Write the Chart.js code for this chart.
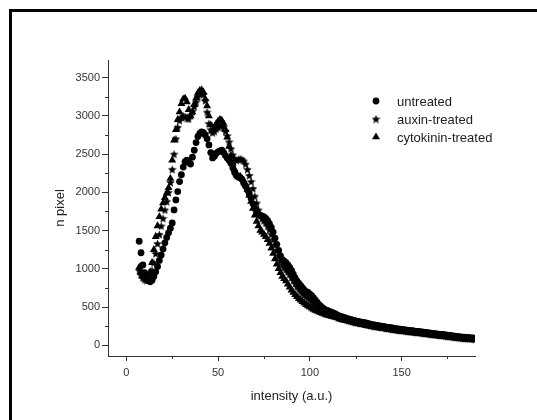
<!DOCTYPE html>
<html>
<head>
<meta charset="utf-8">
<script src="https://cdn.jsdelivr.net/npm/chart.js@4.4.0/dist/chart.umd.min.js"></script>
<style>
  body { margin: 0; background: #fff; }
  canvas { display: block; }
</style>
</head>
<body>
<canvas id="histCanvas" width="537" height="420"></canvas>
<script>
// intensity levels (x) and pixel counts per treatment
const intensity = [
  7, 8, 9, 10, 11, 12, 13, 14, 15, 16, 17, 18, 19, 20, 21, 22, 23, 24, 25, 26,
  27, 28, 29, 30, 31, 32, 33, 34, 35, 36, 37, 38, 39, 40, 41, 42, 43, 44, 45, 46,
  47, 48, 49, 50, 51, 52, 53, 54, 55, 56, 57, 58, 59, 60, 61, 62, 63, 64, 65, 66,
  67, 68, 69, 70, 71, 72, 73, 74, 75, 76, 77, 78, 79, 80, 81, 82, 83, 84, 85, 86,
  87, 88, 89, 90, 91, 92, 93, 94, 95, 96, 97, 98, 99, 100, 101, 102, 103, 104, 105, 106,
  107, 108, 109, 110, 111, 112, 113, 114, 115, 116, 117, 118, 119, 120, 121, 122, 123, 124, 125, 126,
  127, 128, 129, 130, 131, 132, 133, 134, 135, 136, 137, 138, 139, 140, 141, 142, 143, 144, 145, 146,
  147, 148, 149, 150, 151, 152, 153, 154, 155, 156, 157, 158, 159, 160, 161, 162, 163, 164, 165, 166,
  167, 168, 169, 170, 171, 172, 173, 174, 175, 176, 177, 178, 179, 180, 181, 182, 183, 184, 185, 186,
  187, 188, 189, 190
];

const untreated = [
  1360, 1210, 1050, 950, 880, 845, 830, 850, 900, 960,
  1030, 1110, 1180, 1260, 1340, 1410, 1470, 1530, 1600, 1770,
  1900, 2010, 2140, 2230, 2330, 2400, 2420, 2390, 2370, 2460,
  2550, 2650, 2730, 2770, 2790, 2780, 2750, 2700, 2620, 2520,
  2450, 2470, 2510, 2530, 2540, 2550, 2520, 2480, 2450, 2420,
  2380, 2320, 2260, 2220, 2200, 2190, 2170, 2120, 2080, 2030,
  1980, 1920, 1850, 1790, 1740, 1710, 1700, 1690, 1680, 1660,
  1630, 1590, 1540, 1480, 1400, 1320, 1240, 1170, 1120, 1100,
  1080, 1050, 1020, 980, 930, 880, 840, 810, 780, 750,
  720, 700, 690, 670, 650, 620, 590, 560, 530, 510,
  490, 470, 460, 450, 440, 430, 420, 410, 395, 385,
  378, 368, 360, 353, 346, 340, 333, 326, 320, 314,
  308, 304, 300, 296, 290, 283, 276, 270, 266, 262,
  258, 254, 250, 246, 242, 238, 234, 230, 226, 222,
  218, 214, 211, 208, 205, 202, 199, 196, 193, 190,
  186, 183, 180, 177, 174, 171, 168, 165, 162, 159,
  156, 153, 150, 147, 144, 141, 138, 135, 132, 129,
  126, 123, 120, 117, 114, 111, 108, 106, 104, 102,
  100, 98, 96, 94
];

const auxinTreated = [
  980, 920, 880, 860, 850, 860, 900, 980, 1080, 1200,
  1330, 1450, 1560, 1660, 1770, 1880, 2000, 2130, 2300, 2500,
  2700, 2850, 2940, 2980, 3000, 2990, 2970, 2960, 3010, 3060,
  3120, 3180, 3250, 3290, 3300, 3280, 3200, 3050, 2900, 2820,
  2780, 2800, 2830, 2850, 2870, 2880, 2850, 2800, 2740, 2660,
  2570, 2490, 2440, 2420, 2430, 2440, 2430, 2410, 2370, 2300,
  2220, 2140, 2050, 1950, 1860, 1770, 1700, 1660, 1630, 1600,
  1560, 1510, 1450, 1380, 1310, 1240, 1170, 1110, 1060, 1020,
  990, 960, 930, 890, 850, 810, 770, 740, 710, 680,
  660, 640, 620, 600, 580, 560, 540, 520, 500, 485,
  470, 455, 445, 435, 425, 415, 405, 395, 385, 372,
  362, 352, 344, 337, 330, 324, 317, 310, 304, 298,
  293, 288, 284, 279, 273, 267, 261, 256, 252, 248,
  244, 240, 236, 232, 228, 224, 220, 216, 212, 208,
  205, 201, 198, 195, 192, 189, 186, 183, 180, 177,
  174, 171, 168, 165, 162, 159, 156, 153, 150, 147,
  144, 141, 138, 135, 132, 129, 126, 123, 120, 117,
  114, 111, 108, 105, 102, 99, 96, 94, 92, 90,
  88, 86, 84, 82
];

const cytokininTreated = [
  1020, 950, 900, 880, 870, 900, 960, 1080, 1250, 1420,
  1560, 1680, 1780, 1860, 1930, 1990, 2060, 2180, 2420, 2680,
  2820, 2950, 3050, 3160, 3220, 3230, 3180, 3080, 3000, 3050,
  3150, 3230, 3300, 3330, 3340, 3310, 3220, 3130, 3000, 2880,
  2800, 2840, 2900, 2930, 2950, 2940, 2900, 2820, 2720, 2600,
  2480, 2380, 2300, 2240, 2200, 2210, 2180, 2150, 2100, 2040,
  1960, 1880, 1790, 1700, 1620, 1560, 1500, 1480, 1450, 1420,
  1380, 1330, 1270, 1200, 1130, 1060, 1000, 950, 900, 870,
  840, 800, 760, 720, 690, 660, 635, 610, 590, 570,
  550, 530, 515, 500, 485, 470, 455, 445, 435, 425,
  415, 405, 398, 390, 383, 376, 370, 364, 356, 346,
  338, 332, 326, 320, 314, 308, 302, 296, 290, 284,
  279, 274, 269, 264, 259, 254, 249, 244, 240, 236,
  232, 228, 224, 220, 216, 212, 208, 204, 200, 196,
  192, 189, 186, 183, 180, 177, 174, 171, 168, 165,
  162, 159, 156, 153, 150, 147, 144, 141, 138, 135,
  132, 129, 126, 123, 120, 117, 114, 111, 108, 105,
  102, 99, 96, 93, 90, 87, 84, 82, 80, 78,
  76, 74, 72, 70
];

const seriesLabels = ['untreated', 'auxin-treated', 'cytokinin-treated'];

const xTickValues = [0, 50, 100, 150];
const xMinorTicks = [25, 75, 125, 175];
const yTickValues = [0, 500, 1000, 1500, 2000, 2500, 3000, 3500];
const yMinorTicks = [250, 750, 1250, 1750, 2250, 2750, 3250];

const FONT = '"Liberation Sans", Arial, sans-serif';
const AXIS_COLOR = '#333';

// filled five point star used as a marker
function makeStar(size) {
  const c = document.createElement('canvas');
  c.width = size;
  c.height = size;
  const g = c.getContext('2d');
  const outer = size / 2;
  const inner = outer * 0.45;
  g.beginPath();
  for (let i = 0; i < 10; i++) {
    const r = i % 2 ? inner : outer;
    const a = -Math.PI / 2 + (i * Math.PI) / 5;
    g.lineTo(outer + r * Math.cos(a), outer + 0.5 + r * Math.sin(a));
  }
  g.closePath();
  g.fillStyle = '#000';
  g.fill();
  return c;
}

const starImg = makeStar(9);

const toPoints = values => values.map((v, i) => ({ x: intensity[i], y: v }));

const markerStyles = [
  { pointStyle: 'circle', radius: 3.4 },
  { pointStyle: starImg, radius: 4.5 },
  { pointStyle: 'triangle', radius: 4.6 },
];

/**
 * Outer frame of the figure (only left and top edges are visible)
 */
const framePlugin = {
  id: 'frame',
  beforeDraw(chart) {
    const { ctx } = chart;
    ctx.save();
    ctx.fillStyle = '#000';
    ctx.fillRect(9, 9, 528, 3);
    ctx.fillRect(9, 9, 3, 411);
    ctx.restore();
  },
};

/**
 * Short minor ticks between the labelled ones
 */
const minorTicksPlugin = {
  id: 'minorTicks',
  afterDraw(chart) {
    const { ctx, chartArea, scales } = chart;
    ctx.save();
    ctx.strokeStyle = AXIS_COLOR;
    ctx.lineWidth = 1;
    ctx.beginPath();
    xMinorTicks.forEach(v => {
      const px = Math.round(scales.x.getPixelForValue(v)) + 0.5;
      ctx.moveTo(px, chartArea.bottom);
      ctx.lineTo(px, chartArea.bottom + 3);
    });
    yMinorTicks.forEach(v => {
      const py = Math.round(scales.y.getPixelForValue(v)) + 0.5;
      ctx.moveTo(chartArea.left - 3, py);
      ctx.lineTo(chartArea.left, py);
    });
    ctx.stroke();
    ctx.restore();
  },
};

/**
 * Legend drawn inside the plot, upper right, one row per series
 */
const legendPlugin = {
  id: 'insideLegend',
  afterDraw(chart) {
    const { ctx } = chart;
    ctx.save();
    ctx.font = `13px ${FONT}`;
    ctx.textBaseline = 'middle';
    seriesLabels.forEach((label, i) => {
      const y = 101 + i * 18;
      ctx.fillStyle = '#000';
      Chart.helpers.drawPoint(
        ctx,
        { pointStyle: markerStyles[i].pointStyle, radius: markerStyles[i].radius, rotation: 0, borderWidth: 0 },
        376,
        y
      );
      ctx.fillStyle = '#222';
      ctx.fillText(label, 397, y + 1);
    });
    ctx.restore();
  },
};

const datasets = [untreated, auxinTreated, cytokininTreated].map((values, i) => ({
  label: seriesLabels[i],
  data: toPoints(values),
  pointStyle: markerStyles[i].pointStyle,
  pointRadius: markerStyles[i].radius,
  pointBackgroundColor: '#000',
  pointBorderWidth: 0,
  showLine: false,
}));

new Chart(document.getElementById('histCanvas'), {
  type: 'scatter',
  data: { datasets },
  plugins: [framePlugin, minorTicksPlugin, legendPlugin],
  options: {
    responsive: false,
    animation: false,
    events: [],
    layout: { padding: { top: 60, right: 62, left: 0, bottom: 0 } },
    plugins: {
      legend: { display: false },
      tooltip: { enabled: false },
    },
    scales: {
      x: {
        type: 'linear',
        min: -10,
        max: 190,
        afterBuildTicks(scale) {
          scale.ticks = xTickValues.map(value => ({ value }));
        },
        afterFit(scale) {
          scale.height = 64;
        },
        grid: {
          drawOnChartArea: false,
          tickLength: 5,
          tickColor: AXIS_COLOR,
        },
        border: { color: AXIS_COLOR, width: 1 },
        ticks: {
          color: '#333',
          padding: 5,
          maxRotation: 0,
          font: { family: FONT, size: 11 },
          callback: value => String(value),
        },
        title: {
          display: true,
          text: 'intensity (a.u.)',
          color: '#222',
          font: { family: FONT, size: 13 },
          padding: { top: 0, bottom: 16 },
        },
      },
      y: {
        type: 'linear',
        min: -140,
        max: 3730,
        afterBuildTicks(scale) {
          scale.ticks = yTickValues.map(value => ({ value }));
        },
        afterFit(scale) {
          scale.width = 108;
        },
        grid: {
          drawOnChartArea: false,
          tickLength: 6,
          tickColor: AXIS_COLOR,
        },
        border: { color: AXIS_COLOR, width: 1 },
        ticks: {
          color: '#333',
          padding: 2,
          font: { family: FONT, size: 11 },
          callback: value => String(value),
        },
        title: {
          display: true,
          text: 'n pixel',
          color: '#222',
          font: { family: FONT, size: 13 },
          padding: { top: 53, bottom: 0 },
        },
      },
    },
  },
});
</script>
</body>
</html>
